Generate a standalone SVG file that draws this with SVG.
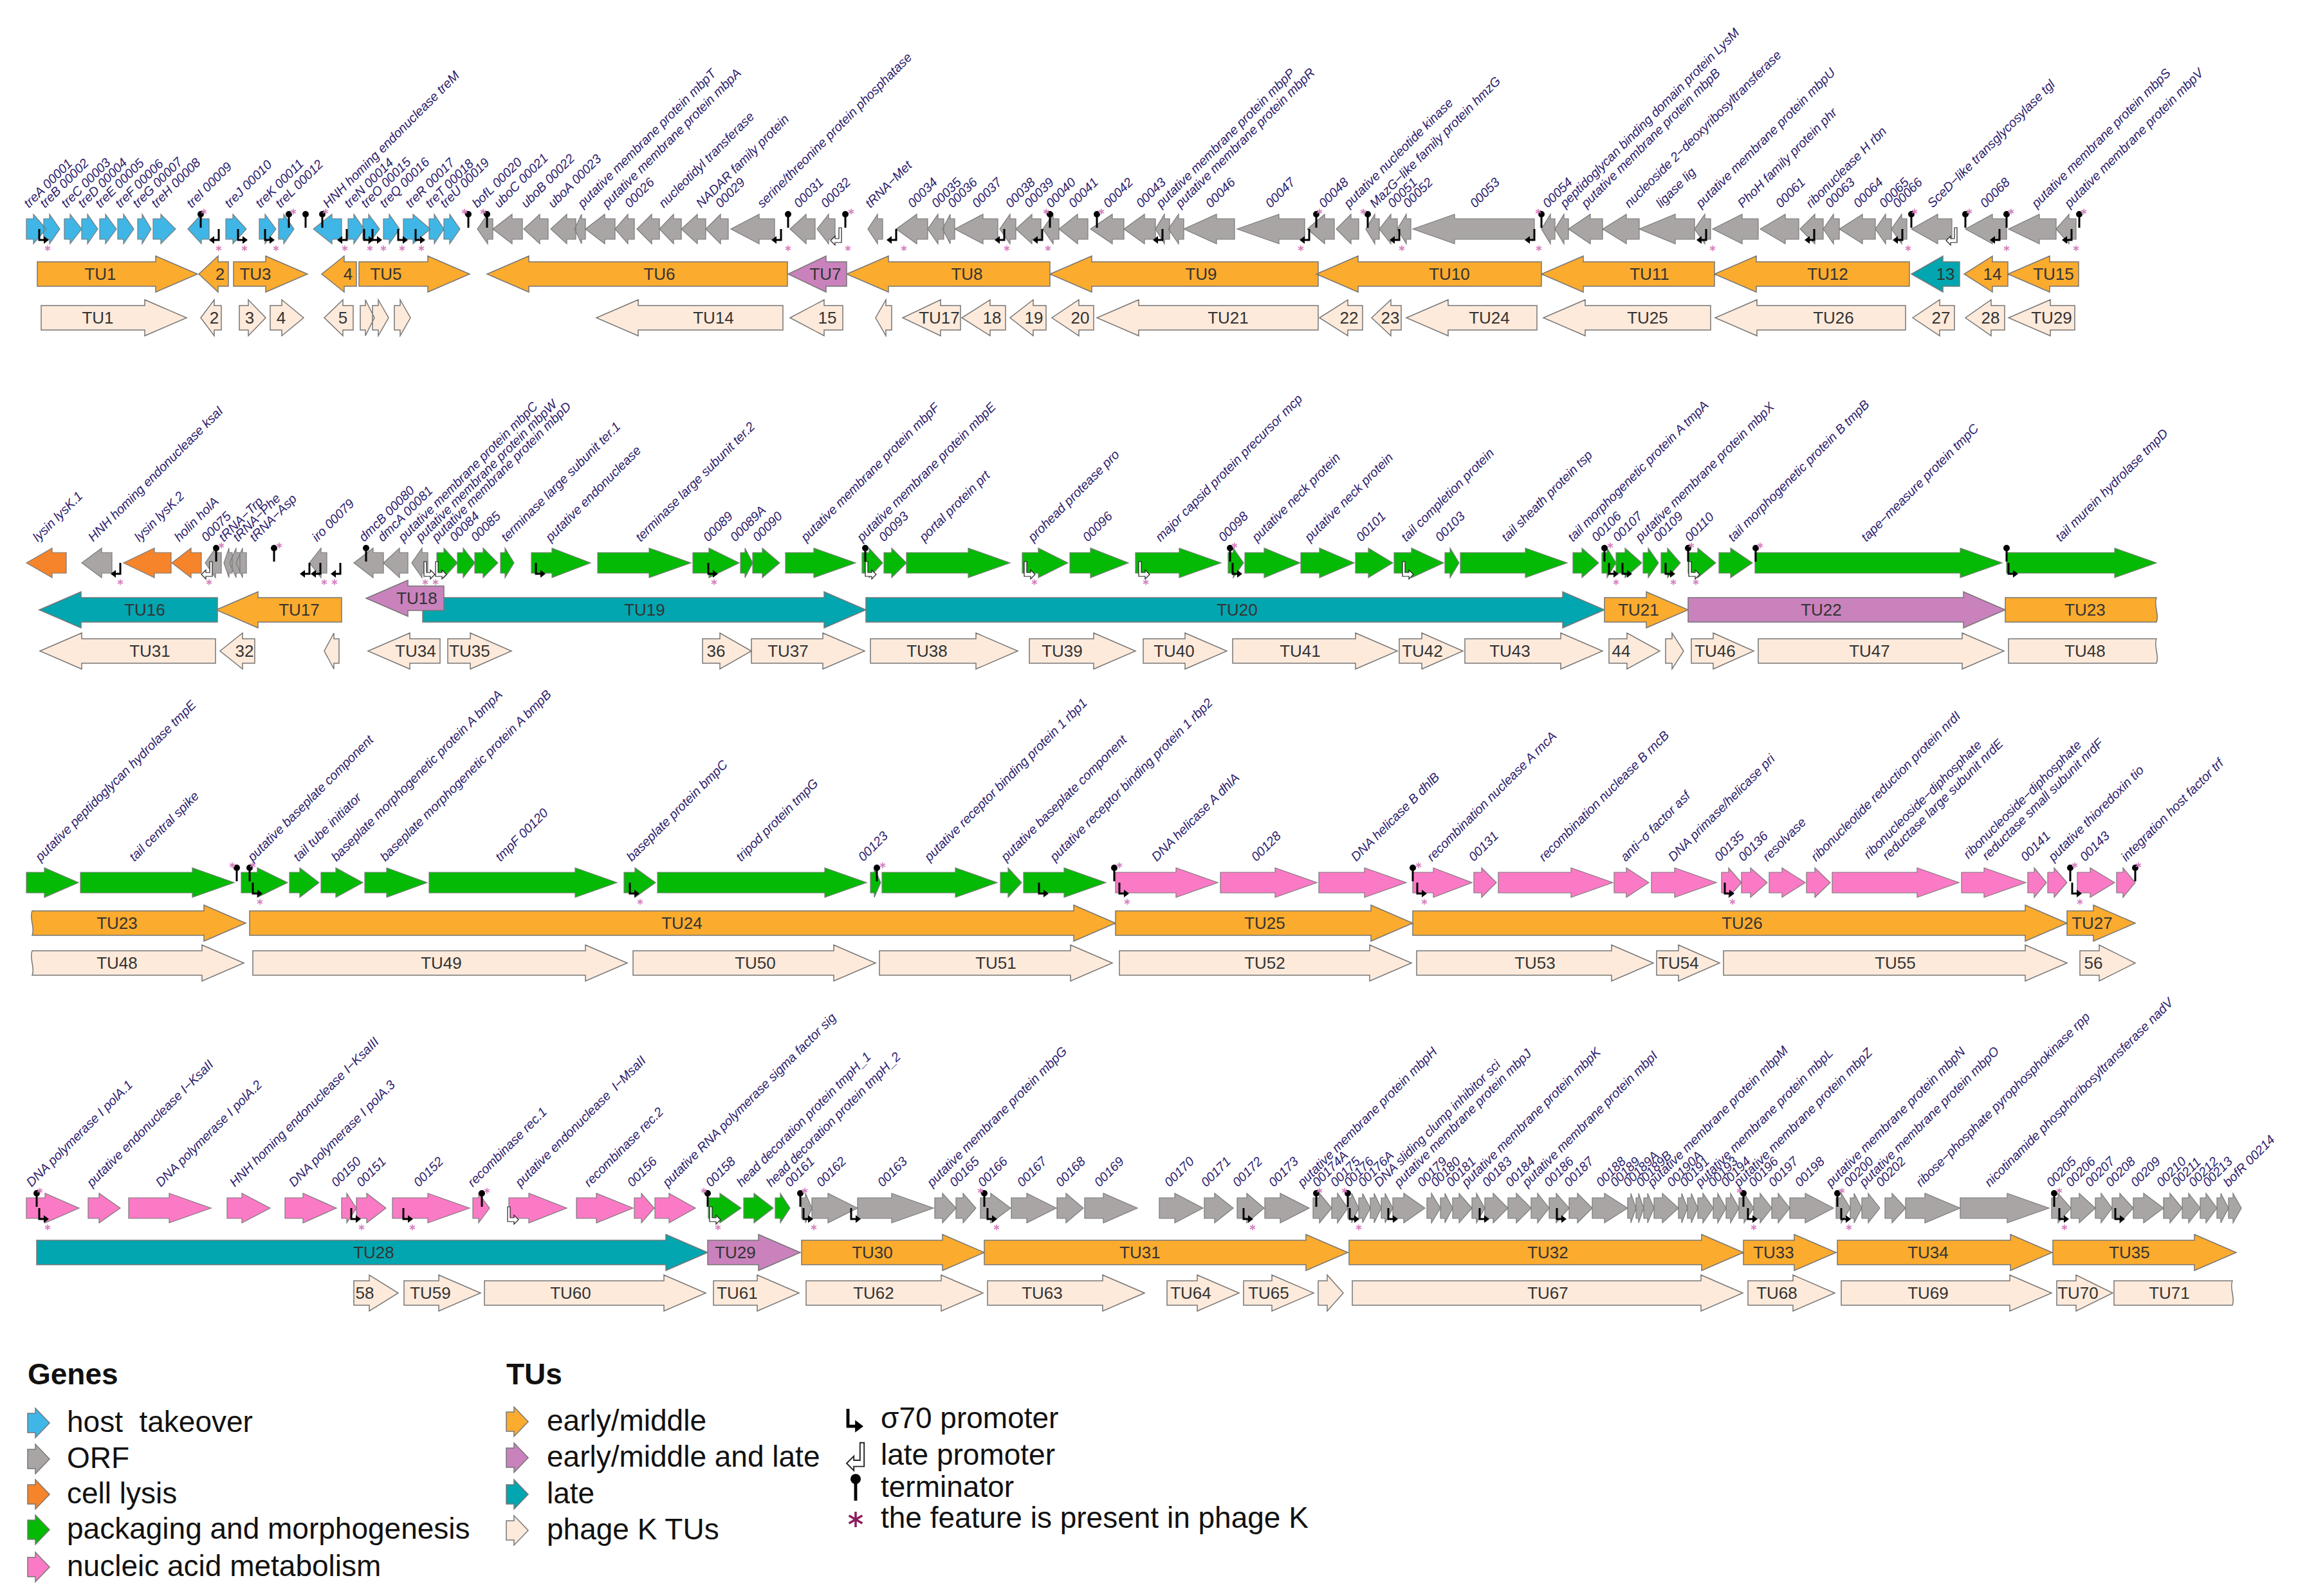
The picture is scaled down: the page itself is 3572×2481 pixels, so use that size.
<svg xmlns="http://www.w3.org/2000/svg" width="3572" height="2481" viewBox="0 0 3572 2481">
<style>
.gn path{stroke:#7a7a7a;stroke-width:1.2;stroke-linejoin:miter}
.tu path{stroke:#777;stroke-width:1.5}
.hb{fill:#3fb6e6}.or{fill:#a9a5a5}.cl{fill:#f6842b}.pk{fill:#05ba05}.na{fill:#fb7ac5}
.em{fill:#fbab2e}.ml{fill:#c982bc}.lt{fill:#02a6b0}.pkt{fill:#feeadb}
.lab text{font-family:"Liberation Sans",Arial,sans-serif;font-style:italic;font-size:20px;fill:#2d1d6c}
.tu text{font-family:"Liberation Sans",Arial,sans-serif;font-size:26px;fill:#333;text-anchor:middle}
.lg{font-family:"Liberation Sans",Arial,sans-serif;font-size:46px;fill:#111}
.lgh{font-family:"Liberation Sans",Arial,sans-serif;font-size:46px;font-weight:bold;fill:#111}
.ic{stroke:#777;stroke-width:1.5}
</style>
<defs>
<g id="pR"><path d="M0 0V17H8" fill="none" stroke="#000" stroke-width="3"/><path d="M7 11L15 17L7 23Z" fill="#000"/></g>
<g id="pL"><path d="M0 0V17H-8" fill="none" stroke="#000" stroke-width="3"/><path d="M-7 11L-15 17L-7 23Z" fill="#000"/></g>
<path id="lR" d="M-2-2H2V15H8V11L15 18L8 25V21H-2Z" fill="#fff" stroke="#222" stroke-width="1.2"/>
<path id="lL" d="M2-2H-2V15H-8V11L-15 18L-8 25V21H2Z" fill="#fff" stroke="#222" stroke-width="1.2"/>
<g id="t"><path d="M0-23V-2" stroke="#000" stroke-width="3"/><circle cy="-23" r="5" fill="#000"/></g>
<path id="a" d="M0-4.5V4.5M-4-2.3L4 2.3M-4 2.3L4-2.3" stroke="#d67fbf" stroke-width="1.6" fill="none"/>
<path id="ic" d="M0-15H12V-23L34 0L12 23V15H0Z"/>
</defs>
<rect width="3572" height="2481" fill="#fff"/>

<g id="row1">
<g id="row1-genes" class="gn" transform="translate(0 356)">
<path class="hb" d="M41-16H52V-23L72 0L52 23V16H41Z M68-16H77V-23L93 0L77 23V16H68Z M100-16H109V-23L127 0L109 23V16H100Z M127-16H136V-23L152 0L136 23V16H127Z M155-16H164V-23L181 0L164 23V16H155Z M183-16H192V-23L208 0L192 23V16H183Z M214-16H221V-23L235 0L221 23V16H214Z M238-16H250V-23L273 0L250 23V16H238Z M325-16H313V-23L292 0L313 23V16H325Z M351-16H362V-23L383 0L362 23V16H351Z M403-16H412V-23L429 0L412 23V16H403Z M433-16H441V-23L457 0L441 23V16H433Z M531-16H516V-23L487 0L516 23V16H531Z M541-16H550V-23L566 0L550 23V16H541Z M564-16H573V-23L590 0L573 23V16H564Z M596-16H605V-23L621 0L605 23V16H596Z M627-16H642V-23L669 0L642 23V16H627Z M667-16H675V-23L690 0L675 23V16H667Z M690-16H699V-23L715 0L699 23V16H690Z"/>
<path class="or" d="M766-16H758V-23L742 0L758 23V16H766Z M812-16H796V-23L766 0L796 23V16H812Z M852-16H839V-23L814 0L839 23V16H852Z M895-16H881V-23L856 0L881 23V16H895Z M910-16H904V-23L893 0L904 23V16H910Z M956-16H940V-23L910 0L940 23V16H956Z M986-16H976V-23L956 0L976 23V16H986Z M1025-16H1013V-23L990 0L1013 23V16H1025Z M1059-16H1047V-23L1025 0L1047 23V16H1059Z M1097-16H1084V-23L1059 0L1084 23V16H1097Z M1132-16H1120V-23L1097 0L1120 23V16H1132Z M1204-16H1180V-23L1136 0L1180 23V16H1204Z M1267-16H1253V-23L1228 0L1253 23V16H1267Z M1298-16H1288V-23L1270 0L1288 23V16H1298Z M1372-16H1364V-23L1349 0L1364 23V16H1372Z M1442-16H1425V-23L1393 0L1425 23V16H1442Z M1467-16H1458V-23L1442 0L1458 23V16H1467Z M1484-16H1477V-23L1465 0L1477 23V16H1484Z M1551-16H1528V-23L1484 0L1528 23V16H1551Z M1579-16H1570V-23L1554 0L1570 23V16H1579Z M1618-16H1604V-23L1579 0L1604 23V16H1618Z M1646-16H1637V-23L1621 0L1637 23V16H1646Z M1691-16H1675V-23L1646 0L1675 23V16H1691Z M1747-16H1729V-23L1695 0L1729 23V16H1747Z M1796-16H1779V-23L1747 0L1779 23V16H1796Z M1818-16H1810V-23L1796 0L1810 23V16H1818Z M1840-16H1832V-23L1816 0L1832 23V16H1840Z M1919-16H1891V-23L1840 0L1891 23V16H1919Z M2028-16H1988V-23L1923 0L1988 23V16H2028Z M2074-16H2059V-23L2032 0L2059 23V16H2074Z M2112-16H2100V-23L2077 0L2100 23V16H2112Z M2144-16H2137V-23L2123 0L2137 23V16H2144Z M2172-16H2162V-23L2144 0L2162 23V16H2172Z M2193-16H2186V-23L2172 0L2186 23V16H2193Z M2385-16H2261V-23L2196 0L2261 23V16H2385Z M2417-16H2410V-23L2396 0L2410 23V16H2417Z M2438-16H2431V-23L2417 0L2431 23V16H2438Z M2491-16H2472V-23L2438 0L2472 23V16H2491Z M2548-16H2528V-23L2491 0L2528 23V16H2548Z M2634-16H2604V-23L2548 0L2604 23V16H2634Z M2659-16H2650V-23L2634 0L2650 23V16H2659Z M2733-16H2708V-23L2662 0L2708 23V16H2733Z M2796-16H2775V-23L2736 0L2775 23V16H2796Z M2834-16H2821V-23L2798 0L2821 23V16H2834Z M2859-16H2850V-23L2834 0L2850 23V16H2859Z M2915-16H2895V-23L2859 0L2895 23V16H2915Z M2940-16H2931V-23L2915 0L2931 23V16H2940Z M2964-16H2956V-23L2940 0L2956 23V16H2964Z M3034-16H3012V-23L2971 0L3012 23V16H3034Z M3119-16H3097V-23L3055 0L3097 23V16H3119Z M3196-16H3170V-23L3122 0L3170 23V16H3196Z M3227-16H3216V-23L3196 0L3216 23V16H3227Z"/>
<use href="#pR" x="61"/><use href="#pR" x="370"/><use href="#pR" x="412"/><use href="#pR" x="566"/><use href="#pR" x="579"/><use href="#pR" x="619"/><use href="#pR" x="646"/>
<use href="#pL" x="340"/><use href="#pL" x="539"/><use href="#pL" x="1214"/><use href="#pL" x="1393"/><use href="#pL" x="1561"/><use href="#pL" x="1620"/><use href="#pL" x="1807"/><use href="#pL" x="2035"/><use href="#pL" x="2175"/><use href="#pL" x="2385"/><use href="#pL" x="2652"/><use href="#pL" x="2820"/><use href="#pL" x="2957"/><use href="#pL" x="3108"/><use href="#pL" x="3220"/>
<use href="#lL" x="1306"/><use href="#lL" x="3040"/>
<use href="#t" x="312"/><use href="#t" x="449"/><use href="#t" x="475"/><use href="#t" x="501"/><use href="#t" x="728"/><use href="#t" x="757"/><use href="#t" x="1225"/><use href="#t" x="1314"/><use href="#t" x="1632"/><use href="#t" x="1705"/><use href="#t" x="2046"/><use href="#t" x="2126"/><use href="#t" x="2396"/><use href="#t" x="2971"/><use href="#t" x="3055"/><use href="#t" x="3119"/><use href="#t" x="3232"/>
<use href="#a" x="317" y="-27"/><use href="#a" x="456" y="-27"/><use href="#a" x="506" y="-27"/><use href="#a" x="722" y="-27"/><use href="#a" x="751" y="-27"/><use href="#a" x="1323" y="-27"/><use href="#a" x="1626" y="-27"/><use href="#a" x="1712" y="-27"/><use href="#a" x="2051" y="-27"/><use href="#a" x="2119" y="-27"/><use href="#a" x="2391" y="-27"/><use href="#a" x="2976" y="-27"/><use href="#a" x="3061" y="-27"/><use href="#a" x="3126" y="-27"/><use href="#a" x="3239" y="-27"/>
<use href="#a" x="74" y="30"/><use href="#a" x="340" y="30"/><use href="#a" x="380" y="30"/><use href="#a" x="429" y="30"/><use href="#a" x="536" y="30"/><use href="#a" x="575" y="30"/><use href="#a" x="596" y="30"/><use href="#a" x="625" y="30"/><use href="#a" x="655" y="30"/><use href="#a" x="1225" y="30"/><use href="#a" x="1318" y="30"/><use href="#a" x="1405" y="30"/><use href="#a" x="1565" y="30"/><use href="#a" x="1629" y="30"/><use href="#a" x="2022" y="30"/><use href="#a" x="2179" y="30"/><use href="#a" x="2392" y="30"/><use href="#a" x="2662" y="30"/><use href="#a" x="2966" y="30"/><use href="#a" x="3119" y="30"/><use href="#a" x="3227" y="30"/>
</g>
<g id="row1-tus" class="tu" transform="translate(0 426)">
<path class="em" d="M58-19H242V-28L307 0L242 28V19H58Z M355-19H339V-28L309 0L339 28V19H355Z M363-19H413V-28L478 0L413 28V19H363Z M554-19H535V-28L500 0L535 28V19H554Z M558-19H665V-28L730 0L665 28V19H558Z M1224-19H822V-28L757 0L822 28V19H1224Z M1632-19H1381V-28L1316 0L1381 28V19H1632Z M2049-19H1697V-28L1632 0L1697 28V19H2049Z M2396-19H2111V-28L2046 0L2111 28V19H2396Z M2665-19H2461V-28L2396 0L2461 28V19H2665Z M2968-19H2730V-28L2665 0L2730 28V19H2968Z M3121-19H3097V-28L3053 0L3097 28V19H3121Z M3231-19H3186V-28L3121 0L3186 28V19H3231Z"/>
<path class="ml" d="M1316-19H1284V-28L1225 0L1284 28V19H1316Z"/>
<path class="lt" d="M3046-19H3020V-28L2971 0L3020 28V19H3046Z"/>
<text x="156" y="9">TU1</text><text x="342" y="9">2</text><text x="397" y="9">TU3</text><text x="541" y="9">4</text><text x="600" y="9">TU5</text><text x="1025" y="9">TU6</text><text x="1283" y="9">TU7</text><text x="1503" y="9">TU8</text><text x="1867" y="9">TU9</text><text x="2253" y="9">TU10</text><text x="2564" y="9">TU11</text><text x="2841" y="9">TU12</text><text x="3024" y="9">13</text><text x="3097" y="9">14</text><text x="3192" y="9">TU15</text>
</g>
<g id="row1-phageK" class="tu" transform="translate(0 494)">
<path class="pkt" d="M64-19H225V-28L290 0L225 28V19H64Z M344-19H333V-28L312 0L333 28V19H344Z M372-19H386V-28L413 0L386 28V19H372Z M420-19H438V-28L472 0L438 28V19H420Z M549-19H533V-28L504 0L533 28V19H549Z M560-19H568V-28L582 0L568 28V19H560Z M579-19H588V-28L604 0L588 28V19H579Z M613-19H622V-28L638 0L622 28V19H613Z M1217-19H992V-28L927 0L992 28V19H1217Z M1310-19H1281V-28L1228 0L1281 28V19H1310Z M1386-19H1377V-28L1361 0L1377 28V19H1386Z M1493-19H1462V-28L1403 0L1462 28V19H1493Z M1563-19H1539V-28L1495 0L1539 28V19H1563Z M1626-19H1606V-28L1570 0L1606 28V19H1626Z M1700-19H1677V-28L1635 0L1677 28V19H1700Z M2049-19H1770V-28L1705 0L1770 28V19H2049Z M2118-19H2095V-28L2051 0L2095 28V19H2118Z M2178-19H2162V-28L2132 0L2162 28V19H2178Z M2389-19H2251V-28L2186 0L2251 28V19H2389Z M2659-19H2464V-28L2399 0L2464 28V19H2659Z M2962-19H2731V-28L2666 0L2731 28V19H2962Z M3038-19H3015V-28L2973 0L3015 28V19H3038Z M3116-19H3095V-28L3055 0L3095 28V19H3116Z M3225-19H3187V-28L3122 0L3187 28V19H3225Z"/>
<text x="152" y="9">TU1</text><text x="333" y="9">2</text><text x="388" y="9">3</text><text x="437" y="9">4</text><text x="533" y="9">5</text><text x="1109" y="9">TU14</text><text x="1286" y="9">15</text><text x="1460" y="9">TU17</text><text x="1542" y="9">18</text><text x="1607" y="9">19</text><text x="1679" y="9">20</text><text x="1909" y="9">TU21</text><text x="2097" y="9">22</text><text x="2161" y="9">23</text><text x="2315" y="9">TU24</text><text x="2561" y="9">TU25</text><text x="2850" y="9">TU26</text><text x="3017" y="9">27</text><text x="3094" y="9">28</text><text x="3189" y="9">TU29</text>
</g>
<g id="row1-labels" class="lab">
<text transform="translate(45 324)rotate(-45)">treA 00001</text>
<text transform="translate(70 324)rotate(-45)">treB 00002</text>
<text transform="translate(103 324)rotate(-45)">treC 00003</text>
<text transform="translate(129 324)rotate(-45)">treD 00004</text>
<text transform="translate(156 324)rotate(-45)">treE 00005</text>
<text transform="translate(187 324)rotate(-45)">treF 00006</text>
<text transform="translate(214 324)rotate(-45)">treG 00007</text>
<text transform="translate(243 324)rotate(-45)">treH 00008</text>
<text transform="translate(298 324)rotate(-45)">treI 00009</text>
<text transform="translate(357 324)rotate(-45)">treJ 00010</text>
<text transform="translate(405 324)rotate(-45)">treK 00011</text>
<text transform="translate(436 324)rotate(-45)">treL 00012</text>
<text transform="translate(510 324)rotate(-45)">HNH homing endonuclease treM</text>
<text transform="translate(543 324)rotate(-45)">treN 00014</text>
<text transform="translate(569 324)rotate(-45)">treO 00015</text>
<text transform="translate(598 324)rotate(-45)">treQ 00016</text>
<text transform="translate(638 324)rotate(-45)">treR 00017</text>
<text transform="translate(669 324)rotate(-45)">treT 00018</text>
<text transform="translate(692 324)rotate(-45)">treU 00019</text>
<text transform="translate(742 324)rotate(-45)">bofL 00020</text>
<text transform="translate(776 324)rotate(-45)">uboC 00021</text>
<text transform="translate(818 324)rotate(-45)">uboB 00022</text>
<text transform="translate(860 324)rotate(-45)">uboA 00023</text>
<text transform="translate(906 324)rotate(-45)">putative membrane protein mbpT</text>
<text transform="translate(944 324)rotate(-45)">putative membrane protein mbpA</text>
<text transform="translate(979 324)rotate(-45)">00026</text>
<text transform="translate(1032 324)rotate(-45)">nucleotidyl transferase</text>
<text transform="translate(1090 324)rotate(-45)">NADAR family protein</text>
<text transform="translate(1120 324)rotate(-45)">00029</text>
<text transform="translate(1185 324)rotate(-45)">serine/threonine protein phosphatase</text>
<text transform="translate(1242 324)rotate(-45)">00031</text>
<text transform="translate(1284 324)rotate(-45)">00032</text>
<text transform="translate(1353 324)rotate(-45)">tRNA−Met</text>
<text transform="translate(1419 324)rotate(-45)">00034</text>
<text transform="translate(1456 324)rotate(-45)">00035</text>
<text transform="translate(1481 324)rotate(-45)">00036</text>
<text transform="translate(1519 324)rotate(-45)">00037</text>
<text transform="translate(1571 324)rotate(-45)">00038</text>
<text transform="translate(1600 324)rotate(-45)">00039</text>
<text transform="translate(1634 324)rotate(-45)">00040</text>
<text transform="translate(1669 324)rotate(-45)">00041</text>
<text transform="translate(1723 324)rotate(-45)">00042</text>
<text transform="translate(1774 324)rotate(-45)">00043</text>
<text transform="translate(1805 324)rotate(-45)">putative membrane protein mbpP</text>
<text transform="translate(1835 324)rotate(-45)">putative membrane protein mbpR</text>
<text transform="translate(1882 324)rotate(-45)">00046</text>
<text transform="translate(1975 324)rotate(-45)">00047</text>
<text transform="translate(2058 324)rotate(-45)">00048</text>
<text transform="translate(2097 324)rotate(-45)">putative nucleotide kinase</text>
<text transform="translate(2137 324)rotate(-45)">MazG−like family protein hmzG</text>
<text transform="translate(2165 324)rotate(-45)">00051</text>
<text transform="translate(2189 324)rotate(-45)">00052</text>
<text transform="translate(2293 324)rotate(-45)">00053</text>
<text transform="translate(2406 324)rotate(-45)">00054</text>
<text transform="translate(2433 324)rotate(-45)">peptidoglycan binding domain protein LysM</text>
<text transform="translate(2466 324)rotate(-45)">putative membrane protein mbpB</text>
<text transform="translate(2533 324)rotate(-45)">nucleoside 2−deoxyribosyltransferase</text>
<text transform="translate(2582 324)rotate(-45)">ligase lig</text>
<text transform="translate(2644 324)rotate(-45)">putative membrane protein mbpU</text>
<text transform="translate(2709 324)rotate(-45)">PhoH family protein phr</text>
<text transform="translate(2768 324)rotate(-45)">00061</text>
<text transform="translate(2815 324)rotate(-45)">ribonuclease H rbn</text>
<text transform="translate(2845 324)rotate(-45)">00063</text>
<text transform="translate(2889 324)rotate(-45)">00064</text>
<text transform="translate(2929 324)rotate(-45)">00065</text>
<text transform="translate(2950 324)rotate(-45)">00066</text>
<text transform="translate(3004 324)rotate(-45)">SceD−like transglycosylase tgl</text>
<text transform="translate(3086 324)rotate(-45)">00068</text>
<text transform="translate(3166 324)rotate(-45)">putative membrane protein mbpS</text>
<text transform="translate(3217 324)rotate(-45)">putative membrane protein mbpV</text>
</g>
</g>

<g id="row2">
<g id="row2-genes" class="gn" transform="translate(0 875)">
<path class="cl" d="M103-16H81V-23L41 0L81 23V16H103Z M266-16H240V-23L192 0L240 23V16H266Z M313-16H297V-23L267 0L297 23V16H313Z"/>
<path class="or" d="M174-16H158V-23L127 0L158 23V16H174Z M344-16H335V-23L319 0L335 23V16H344Z M361-16H356V-23L348 0L356 23V16H361Z M373-16H367V-23L357 0L367 23V16H373Z M383-16H377V-23L367 0L377 23V16H383Z M508-16H499V-23L481 0L499 23V16H508Z M596-16H580V-23L550 0L580 23V16H596Z M634-16H621V-23L596 0L621 23V16H634Z M665-16H656V-23L640 0L656 23V16H665Z"/>
<path class="pk" d="M679-16H690V-23L711 0L690 23V16H679Z M711-16H720V-23L738 0L720 23V16H711Z M738-16H751V-23L774 0L751 23V16H738Z M778-16H785V-23L799 0L785 23V16H778Z M826-16H858V-23L918 0L858 23V16H826Z M929-16H1009V-23L1074 0L1009 23V16H929Z M1077-16H1102V-23L1149 0L1102 23V16H1077Z M1151-16H1158V-23L1170 0L1158 23V16H1151Z M1170-16H1185V-23L1212 0L1185 23V16H1170Z M1221-16H1265V-23L1330 0L1265 23V16H1221Z M1340-16H1351V-23L1372 0L1351 23V16H1340Z M1374-16H1386V-23L1409 0L1386 23V16H1374Z M1409-16H1505V-23L1570 0L1505 23V16H1409Z M1589-16H1614V-23L1660 0L1614 23V16H1589Z M1663-16H1695V-23L1754 0L1695 23V16H1663Z M1765-16H1833V-23L1898 0L1833 23V16H1765Z M1909-16H1917V-23L1933 0L1917 23V16H1909Z M1935-16H1965V-23L2021 0L1965 23V16H1935Z M2022-16H2051V-23L2105 0L2051 23V16H2022Z M2107-16H2127V-23L2165 0L2127 23V16H2107Z M2167-16H2194V-23L2244 0L2194 23V16H2167Z M2246-16H2254V-23L2268 0L2254 23V16H2246Z M2270-16H2371V-23L2436 0L2371 23V16H2270Z M2445-16H2459V-23L2485 0L2459 23V16H2445Z M2490-16H2498V-23L2512 0L2498 23V16H2490Z M2512-16H2526V-23L2552 0L2526 23V16H2512Z M2554-16H2562V-23L2578 0L2562 23V16H2554Z M2582-16H2592V-23L2612 0L2592 23V16H2582Z M2624-16H2639V-23L2667 0L2639 23V16H2624Z M2672-16H2690V-23L2724 0L2690 23V16H2672Z M2728-16H3047V-23L3112 0L3047 23V16H2728Z M3119-16H3287V-23L3352 0L3287 23V16H3119Z"/>
<use href="#pL" x="187"/><use href="#pL" x="481"/><use href="#pL" x="498"/><use href="#pL" x="529"/>
<use href="#lL" x="328"/>
<use href="#t" x="336"/><use href="#t" x="426"/><use href="#t" x="569"/><use href="#t" x="1345"/><use href="#t" x="1912"/><use href="#t" x="2494"/><use href="#t" x="2624"/><use href="#t" x="2729"/><use href="#t" x="3119"/>
<use href="#lR" x="661"/><use href="#lR" x="679"/><use href="#lR" x="1347"/><use href="#lR" x="1594"/><use href="#lR" x="1772"/><use href="#lR" x="2182"/><use href="#lR" x="2627"/>
<use href="#pR" x="833"/><use href="#pR" x="1101"/><use href="#pR" x="1916"/><use href="#pR" x="2501"/><use href="#pR" x="2522"/><use href="#pR" x="2589"/><use href="#pR" x="3122"/>
<use href="#a" x="344" y="-27"/><use href="#a" x="434" y="-27"/><use href="#a" x="1919" y="-27"/><use href="#a" x="2503" y="-27"/><use href="#a" x="2629" y="-27"/><use href="#a" x="2736" y="-27"/>
<use href="#a" x="187" y="30"/><use href="#a" x="325" y="30"/><use href="#a" x="504" y="30"/><use href="#a" x="520" y="30"/><use href="#a" x="661" y="30"/><use href="#a" x="677" y="30"/><use href="#a" x="1110" y="30"/><use href="#a" x="1608" y="30"/><use href="#a" x="1781" y="30"/><use href="#a" x="2512" y="30"/><use href="#a" x="2601" y="30"/><use href="#a" x="2636" y="30"/>
</g>
<g id="row2-tus" class="tu" transform="translate(0 948)">
<path class="lt" d="M338-19H126V-28L61 0L126 28V19H338Z M657-19H1281V-28L1346 0L1281 28V19H657Z M1346-19H2429V-28L2494 0L2429 28V19H1346Z"/>
<path class="em" d="M531-19H401V-28L336 0L401 28V19H531Z M2494-19H2559V-28L2624 0L2559 28V19H2494Z M3117-19H3352c-5 12 5 26 0 38H3117Z"/>
<path class="ml" d="M2624-19H3052V-28L3117 0L3052 28V19H2624Z M690-37H634V-46L569-18L634 10V1H690Z"/>
<text x="225" y="9">TU16</text><text x="465" y="9">TU17</text><text x="648" y="-9">TU18</text><text x="1002" y="9">TU19</text><text x="1923" y="9">TU20</text><text x="2547" y="9">TU21</text><text x="2831" y="9">TU22</text><text x="3241" y="9">TU23</text>
</g>
<g id="row2-phageK" class="tu" transform="translate(0 1012)">
<path class="pkt" d="M335-19H127V-28L62 0L127 28V19H335Z M396-19H377V-28L342 0L377 28V19H396Z M527-19H519V-28L504 0L519 28V19H527Z M684-19H637V-28L572 0L637 28V19H684Z M696-19H731V-28L795 0L731 28V19H696Z M1092-19H1119V-28L1168 0L1119 28V19H1092Z M1168-19H1279V-28L1344 0L1279 28V19H1168Z M1353-19H1517V-28L1582 0L1517 28V19H1353Z M1600-19H1700V-28L1765 0L1700 28V19H1600Z M1777-19H1842V-28L1907 0L1842 28V19H1777Z M1916-19H2107V-28L2172 0L2107 28V19H1916Z M2175-19H2210V-28L2274 0L2210 28V19H2175Z M2277-19H2426V-28L2491 0L2426 28V19H2277Z M2501-19H2529V-28L2580 0L2529 28V19H2501Z M2589-19H2599V-28L2617 0L2599 28V19H2589Z M2629-19H2663V-28L2726 0L2663 28V19H2629Z M2733-19H3050V-28L3115 0L3050 28V19H2733Z M3122-19H3352c-5 12 5 26 0 38H3122Z"/>
<text x="233" y="9">TU31</text><text x="380" y="9">32</text><text x="646" y="9">TU34</text><text x="730" y="9">TU35</text><text x="1113" y="9">36</text><text x="1225" y="9">TU37</text><text x="1441" y="9">TU38</text><text x="1651" y="9">TU39</text><text x="1825" y="9">TU40</text><text x="2021" y="9">TU41</text><text x="2211" y="9">TU42</text><text x="2347" y="9">TU43</text><text x="2520" y="9">44</text><text x="2666" y="9">TU46</text><text x="2906" y="9">TU47</text><text x="3241" y="9">TU48</text>
</g>
<g id="row2-labels" class="lab">
<text transform="translate(59 843)rotate(-45)">lysin lysK.1</text>
<text transform="translate(145 843)rotate(-45)">HNH homing endonuclease ksaI</text>
<text transform="translate(217 843)rotate(-45)">lysin lysK.2</text>
<text transform="translate(279 843)rotate(-45)">holin holA</text>
<text transform="translate(321 843)rotate(-45)">00075</text>
<text transform="translate(348 843)rotate(-45)">tRNA−Trp</text>
<text transform="translate(370 843)rotate(-45)">tRNA−Phe</text>
<text transform="translate(396 843)rotate(-45)">tRNA−Asp</text>
<text transform="translate(493 843)rotate(-45)">iro 00079</text>
<text transform="translate(566 843)rotate(-45)">dmcB 00080</text>
<text transform="translate(595 843)rotate(-45)">dmcA 00081</text>
<text transform="translate(627 843)rotate(-45)">putative membrane protein mbpC</text>
<text transform="translate(654 843)rotate(-45)">putative membrane protein mbpW</text>
<text transform="translate(679 843)rotate(-45)">putative membrane protein mbpD</text>
<text transform="translate(707 843)rotate(-45)">00084</text>
<text transform="translate(740 843)rotate(-45)">00085</text>
<text transform="translate(787 843)rotate(-45)">terminase large subunit ter.1</text>
<text transform="translate(856 843)rotate(-45)">putative endonuclease</text>
<text transform="translate(996 843)rotate(-45)">terminase large subunit ter.2</text>
<text transform="translate(1101 843)rotate(-45)">00089</text>
<text transform="translate(1143 843)rotate(-45)">00089A</text>
<text transform="translate(1178 843)rotate(-45)">00090</text>
<text transform="translate(1253 843)rotate(-45)">putative membrane protein mbpF</text>
<text transform="translate(1340 843)rotate(-45)">putative membrane protein mbpE</text>
<text transform="translate(1374 843)rotate(-45)">00093</text>
<text transform="translate(1437 843)rotate(-45)">portal protein prt</text>
<text transform="translate(1606 843)rotate(-45)">prohead protease pro</text>
<text transform="translate(1691 843)rotate(-45)">00096</text>
<text transform="translate(1804 843)rotate(-45)">major capsid protein precursor mcp</text>
<text transform="translate(1902 843)rotate(-45)">00098</text>
<text transform="translate(1954 843)rotate(-45)">putative neck protein</text>
<text transform="translate(2036 843)rotate(-45)">putative neck protein</text>
<text transform="translate(2116 843)rotate(-45)">00101</text>
<text transform="translate(2186 843)rotate(-45)">tail completion protein</text>
<text transform="translate(2239 843)rotate(-45)">00103</text>
<text transform="translate(2342 843)rotate(-45)">tail sheath protein tsp</text>
<text transform="translate(2445 843)rotate(-45)">tail morphogenetic protein A tmpA</text>
<text transform="translate(2482 843)rotate(-45)">00106</text>
<text transform="translate(2515 843)rotate(-45)">00107</text>
<text transform="translate(2550 843)rotate(-45)">putative membrane protein mbpX</text>
<text transform="translate(2578 843)rotate(-45)">00109</text>
<text transform="translate(2627 843)rotate(-45)">00110</text>
<text transform="translate(2694 843)rotate(-45)">tail morphogenetic protein B tmpB</text>
<text transform="translate(2901 843)rotate(-45)">tape−measure protein tmpC</text>
<text transform="translate(3203 843)rotate(-45)">tail murein hydrolase tmpD</text>
</g>
</g>

<g id="row3">
<g id="row3-genes" class="gn" transform="translate(0 1372)">
<path class="pk" d="M41-16H69V-23L122 0L69 23V16H41Z M125-16H299V-23L364 0L299 23V16H125Z M375-16H400V-23L447 0L400 23V16H375Z M450-16H466V-23L496 0L466 23V16H450Z M499-16H522V-23L564 0L522 23V16H499Z M567-16H601V-23L664 0L601 23V16H567Z M667-16H894V-23L959 0L894 23V16H667Z M970-16H987V-23L1019 0L987 23V16H970Z M1022-16H1282V-23L1347 0L1282 23V16H1022Z M1353-16H1359V-23L1369 0L1359 23V16H1353Z M1371-16H1485V-23L1550 0L1485 23V16H1371Z M1555-16H1567V-23L1588 0L1567 23V16H1555Z M1591-16H1654V-23L1719 0L1654 23V16H1591Z"/>
<path class="na" d="M1734-16H1828V-23L1893 0L1828 23V16H1734Z M1897-16H1982V-23L2047 0L1982 23V16H1897Z M2050-16H2121V-23L2186 0L2121 23V16H2050Z M2196-16H2228V-23L2288 0L2228 23V16H2196Z M2291-16H2303V-23L2326 0L2303 23V16H2291Z M2329-16H2442V-23L2507 0L2442 23V16H2329Z M2509-16H2528V-23L2563 0L2528 23V16H2509Z M2567-16H2603V-23L2668 0L2603 23V16H2567Z M2676-16H2687V-23L2707 0L2687 23V16H2676Z M2707-16H2721V-23L2747 0L2721 23V16H2707Z M2750-16H2770V-23L2806 0L2770 23V16H2750Z M2808-16H2821V-23L2845 0L2821 23V16H2808Z M2848-16H2980V-23L3045 0L2980 23V16H2848Z M3049-16H3084V-23L3149 0L3084 23V16H3049Z M3152-16H3162V-23L3181 0L3162 23V16H3152Z M3183-16H3193V-23L3213 0L3193 23V16H3183Z M3229-16H3249V-23L3287 0L3249 23V16H3229Z M3290-16H3300V-23L3319 0L3300 23V16H3290Z"/>
<use href="#t" x="368"/><use href="#t" x="388"/><use href="#t" x="1363"/><use href="#t" x="1732"/><use href="#t" x="2196"/><use href="#t" x="3218"/><use href="#t" x="3319"/>
<use href="#pR" x="393"/><use href="#pR" x="979"/><use href="#pR" x="1615"/><use href="#pR" x="1740"/><use href="#pR" x="2203"/><use href="#pR" x="2681"/><use href="#pR" x="3221"/>
<use href="#a" x="361" y="-27"/><use href="#a" x="393" y="-27"/><use href="#a" x="1372" y="-27"/><use href="#a" x="1740" y="-27"/><use href="#a" x="2205" y="-27"/><use href="#a" x="3225" y="-27"/><use href="#a" x="3324" y="-27"/>
<use href="#a" x="404" y="30"/><use href="#a" x="995" y="30"/><use href="#a" x="1752" y="30"/><use href="#a" x="2214" y="30"/><use href="#a" x="2693" y="30"/><use href="#a" x="3233" y="30"/>
</g>
<g id="row3-tus" class="tu" transform="translate(0 1435)">
<path class="em" d="M50-19H317V-28L382 0L317 28V19H50c5-12-5-26 0-38Z M388-19H1669V-28L1734 0L1669 28V19H388Z M1734-19H2131V-28L2196 0L2131 28V19H1734Z M2196-19H3148V-28L3213 0L3148 28V19H2196Z M3213-19H3254V-28L3319 0L3254 28V19H3213Z"/>
<text x="182" y="9">TU23</text><text x="1060" y="9">TU24</text><text x="1966" y="9">TU25</text><text x="2708" y="9">TU26</text><text x="3252" y="9">TU27</text>
</g>
<g id="row3-phageK" class="tu" transform="translate(0 1497)">
<path class="pkt" d="M50-19H314V-28L379 0L314 28V19H50c5-12-5-26 0-38Z M393-19H910V-28L975 0L910 28V19H393Z M984-19H1296V-28L1361 0L1296 28V19H984Z M1367-19H1664V-28L1729 0L1664 28V19H1367Z M1740-19H2129V-28L2194 0L2129 28V19H1740Z M2202-19H2505V-28L2570 0L2505 28V19H2202Z M2575-19H2609V-28L2673 0L2609 28V19H2575Z M2679-19H3148V-28L3213 0L3148 28V19H2679Z M3233-19H3263V-28L3319 0L3263 28V19H3233Z"/>
<text x="182" y="9">TU48</text><text x="686" y="9">TU49</text><text x="1174" y="9">TU50</text><text x="1548" y="9">TU51</text><text x="1966" y="9">TU52</text><text x="2386" y="9">TU53</text><text x="2609" y="9">TU54</text><text x="2946" y="9">TU55</text><text x="3254" y="9">56</text>
</g>
<g id="row3-labels" class="lab">
<text transform="translate(63 1340)rotate(-45)">putative peptidoglycan hydrolase tmpE</text>
<text transform="translate(209 1340)rotate(-45)">tail central spike</text>
<text transform="translate(393 1340)rotate(-45)">putative baseplate component</text>
<text transform="translate(464 1340)rotate(-45)">tail tube initiator</text>
<text transform="translate(523 1340)rotate(-45)">baseplate morphogenetic protein A bmpA</text>
<text transform="translate(599 1340)rotate(-45)">baseplate morphogenetic protein A bmpB</text>
<text transform="translate(778 1340)rotate(-45)">tmpF 00120</text>
<text transform="translate(982 1340)rotate(-45)">baseplate protein bmpC</text>
<text transform="translate(1152 1340)rotate(-45)">tripod protein tmpG</text>
<text transform="translate(1342 1340)rotate(-45)">00123</text>
<text transform="translate(1445 1340)rotate(-45)">putative receptor binding protein 1 rbp1</text>
<text transform="translate(1564 1340)rotate(-45)">putative baseplate component</text>
<text transform="translate(1640 1340)rotate(-45)">putative receptor binding protein 1 rbp2</text>
<text transform="translate(1798 1340)rotate(-45)">DNA helicase A dhlA</text>
<text transform="translate(1953 1340)rotate(-45)">00128</text>
<text transform="translate(2108 1340)rotate(-45)">DNA helicase B dhlB</text>
<text transform="translate(2226 1340)rotate(-45)">recombination nuclease A rncA</text>
<text transform="translate(2291 1340)rotate(-45)">00131</text>
<text transform="translate(2400 1340)rotate(-45)">recombination nuclease B rncB</text>
<text transform="translate(2527 1340)rotate(-45)">anti−σ factor asf</text>
<text transform="translate(2601 1340)rotate(-45)">DNA primase/helicase pri</text>
<text transform="translate(2673 1340)rotate(-45)">00135</text>
<text transform="translate(2710 1340)rotate(-45)">00136</text>
<text transform="translate(2748 1340)rotate(-45)">resolvase</text>
<text transform="translate(2823 1340)rotate(-45)">ribonucleotide reduction protein nrdI</text>
<text transform="translate(2905 1336)rotate(-45)">ribonucleoside−diphosphate<tspan x="19" dy="22">reductase large subunit nrdE</tspan></text>
<text transform="translate(3060 1336)rotate(-45)">ribonucleoside−diphosphate<tspan x="19" dy="22">reductase small subunit nrdF</tspan></text>
<text transform="translate(3149 1340)rotate(-45)">00141</text>
<text transform="translate(3192 1340)rotate(-45)">putative thioredoxin tio</text>
<text transform="translate(3241 1340)rotate(-45)">00143</text>
<text transform="translate(3305 1340)rotate(-45)">integration host factor trf</text>
</g>
</g>

<g id="row4">
<g id="row4-genes" class="gn" transform="translate(0 1878)">
<path class="na" d="M41-16H70V-23L123 0L70 23V16H41Z M137-16H154V-23L187 0L154 23V16H137Z M200-16H263V-23L328 0L263 23V16H200Z M353-16H376V-23L420 0L376 23V16H353Z M443-16H471V-23L523 0L471 23V16H443Z M531-16H539V-23L554 0L539 23V16H531Z M554-16H570V-23L600 0L570 23V16H554Z M610-16H665V-23L730 0L665 23V16H610Z M735-16H744V-23L761 0L744 23V16H735Z M791-16H822V-23L881 0L822 23V16H791Z M896-16H927V-23L984 0L927 23V16H896Z M986-16H997V-23L1017 0L997 23V16H986Z M1018-16H1040V-23L1081 0L1040 23V16H1018Z"/>
<path class="pk" d="M1101-16H1119V-23L1152 0L1119 23V16H1101Z M1156-16H1172V-23L1202 0L1172 23V16H1156Z M1205-16H1213V-23L1228 0L1213 23V16H1205Z"/>
<path class="or" d="M1246-16H1252V-23L1262 0L1252 23V16H1246Z M1262-16H1287V-23L1333 0L1287 23V16H1262Z M1333-16H1386V-23L1451 0L1386 23V16H1333Z M1453-16H1465V-23L1486 0L1465 23V16H1453Z M1486-16H1497V-23L1517 0L1497 23V16H1486Z M1524-16H1540V-23L1571 0L1540 23V16H1524Z M1572-16H1596V-23L1642 0L1596 23V16H1572Z M1643-16H1657V-23L1684 0L1657 23V16H1643Z M1686-16H1715V-23L1768 0L1715 23V16H1686Z M1802-16H1826V-23L1870 0L1826 23V16H1802Z M1872-16H1888V-23L1917 0L1888 23V16H1872Z M1923-16H1938V-23L1965 0L1938 23V16H1923Z M1966-16H1990V-23L2035 0L1990 23V16H1966Z M2041-16H2051V-23L2070 0L2051 23V16H2041Z M2070-16H2079V-23L2095 0L2079 23V16H2070Z M2095-16H2101V-23L2112 0L2101 23V16H2095Z M2112-16H2118V-23L2130 0L2118 23V16H2112Z M2130-16H2136V-23L2147 0L2136 23V16H2130Z M2147-16H2153V-23L2165 0L2153 23V16H2147Z M2165-16H2182V-23L2215 0L2182 23V16H2165Z M2218-16H2225V-23L2239 0L2225 23V16H2218Z M2239-16H2246V-23L2258 0L2246 23V16H2239Z M2258-16H2268V-23L2288 0L2268 23V16H2258Z M2288-16H2295V-23L2308 0L2295 23V16H2288Z M2308-16H2321V-23L2344 0L2321 23V16H2308Z M2344-16H2357V-23L2380 0L2357 23V16H2344Z M2380-16H2390V-23L2408 0L2390 23V16H2380Z M2408-16H2419V-23L2439 0L2419 23V16H2408Z M2439-16H2452V-23L2475 0L2452 23V16H2439Z M2475-16H2494V-23L2530 0L2494 23V16H2475Z M2530-16H2535V-23L2543 0L2535 23V16H2530Z M2543-16H2547V-23L2555 0L2547 23V16H2543Z M2555-16H2561V-23L2571 0L2561 23V16H2555Z M2571-16H2584V-23L2609 0L2584 23V16H2571Z M2609-16H2614V-23L2623 0L2614 23V16H2609Z M2623-16H2629V-23L2639 0L2629 23V16H2623Z M2639-16H2647V-23L2663 0L2647 23V16H2639Z M2663-16H2670V-23L2683 0L2670 23V16H2663Z M2683-16H2690V-23L2703 0L2690 23V16H2683Z M2703-16H2711V-23L2726 0L2711 23V16H2703Z M2726-16H2736V-23L2754 0L2736 23V16H2726Z M2754-16H2764V-23L2782 0L2764 23V16H2754Z M2782-16H2806V-23L2850 0L2806 23V16H2782Z M2854-16H2862V-23L2876 0L2862 23V16H2854Z M2876-16H2882V-23L2894 0L2882 23V16H2876Z M2894-16H2904V-23L2922 0L2904 23V16H2894Z M2930-16H2941V-23L2962 0L2941 23V16H2930Z M2962-16H2992V-23L3047 0L2992 23V16H2962Z M3047-16H3120V-23L3185 0L3120 23V16H3047Z M3189-16H3199V-23L3219 0L3199 23V16H3189Z M3219-16H3232V-23L3257 0L3232 23V16H3219Z M3257-16H3266V-23L3283 0L3266 23V16H3257Z M3283-16H3295V-23L3316 0L3295 23V16H3283Z M3316-16H3332V-23L3363 0L3332 23V16H3316Z M3363-16H3373V-23L3392 0L3373 23V16H3363Z M3392-16H3402V-23L3420 0L3402 23V16H3392Z M3420-16H3429V-23L3446 0L3429 23V16H3420Z M3446-16H3452V-23L3464 0L3452 23V16H3446Z M3464-16H3471V-23L3484 0L3471 23V16H3464Z"/>
<use href="#t" x="57"/><use href="#t" x="749"/><use href="#t" x="1100"/><use href="#t" x="1244"/><use href="#t" x="1530"/><use href="#t" x="2046"/><use href="#t" x="2095"/><use href="#t" x="2710"/><use href="#t" x="2856"/><use href="#t" x="3193"/>
<use href="#pR" x="61"/><use href="#pR" x="546"/><use href="#pR" x="627"/><use href="#pR" x="1249"/><use href="#pR" x="1323"/><use href="#pR" x="1535"/><use href="#pR" x="1933"/><use href="#pR" x="2098"/><use href="#pR" x="2158"/><use href="#pR" x="2300"/><use href="#pR" x="2420"/><use href="#pR" x="2717"/><use href="#pR" x="2862"/><use href="#pR" x="3201"/><use href="#pR" x="3288"/>
<use href="#lR" x="791"/><use href="#lR" x="1105"/>
<use href="#a" x="62" y="-27"/><use href="#a" x="757" y="-27"/><use href="#a" x="1094" y="-27"/><use href="#a" x="1251" y="-27"/><use href="#a" x="1524" y="-27"/><use href="#a" x="2051" y="-27"/><use href="#a" x="2090" y="-27"/><use href="#a" x="2704" y="-27"/><use href="#a" x="2863" y="-27"/><use href="#a" x="3201" y="-27"/>
<use href="#a" x="74" y="30"/><use href="#a" x="562" y="30"/><use href="#a" x="641" y="30"/><use href="#a" x="1116" y="30"/><use href="#a" x="1265" y="30"/><use href="#a" x="1549" y="30"/><use href="#a" x="1947" y="30"/><use href="#a" x="2112" y="30"/><use href="#a" x="2726" y="30"/><use href="#a" x="2874" y="30"/><use href="#a" x="3209" y="30"/>
</g>
<g id="row4-tus" class="tu" transform="translate(0 1947)">
<path class="lt" d="M57-19H1035V-28L1100 0L1035 28V19H57Z"/>
<path class="ml" d="M1100-19H1179V-28L1244 0L1179 28V19H1100Z"/>
<path class="em" d="M1246-19H1465V-28L1530 0L1465 28V19H1246Z M1530-19H2030V-28L2095 0L2030 28V19H1530Z M2097-19H2645V-28L2710 0L2645 28V19H2097Z M2710-19H2789V-28L2854 0L2789 28V19H2710Z M2856-19H3125V-28L3190 0L3125 28V19H2856Z M3191-19H3411V-28L3476 0L3411 28V19H3191Z"/>
<text x="581" y="9">TU28</text><text x="1143" y="9">TU29</text><text x="1356" y="9">TU30</text><text x="1772" y="9">TU31</text><text x="2406" y="9">TU32</text><text x="2757" y="9">TU33</text><text x="2997" y="9">TU34</text><text x="3310" y="9">TU35</text>
</g>
<g id="row4-phageK" class="tu" transform="translate(0 2010)">
<path class="pkt" d="M550-19H574V-28L619 0L574 28V19H550Z M628-19H682V-28L747 0L682 28V19H628Z M753-19H1032V-28L1097 0L1032 28V19H753Z M1109-19H1177V-28L1242 0L1177 28V19H1109Z M1253-19H1463V-28L1528 0L1463 28V19H1253Z M1535-19H1714V-28L1779 0L1714 28V19H1535Z M1814-19H1861V-28L1926 0L1861 28V19H1814Z M1933-19H1977V-28L2042 0L1977 28V19H1933Z M2049-19H2063V-28L2088 0L2063 28V19H2049Z M2102-19H2644V-28L2709 0L2644 28V19H2102Z M2717-19H2787V-28L2852 0L2787 28V19H2717Z M2862-19H3124V-28L3189 0L3124 28V19H2862Z M3197-19H3227V-28L3284 0L3227 28V19H3197Z M3286-19H3470c-5 12 5 26 0 38H3286Z"/>
<text x="567" y="9">58</text><text x="669" y="9">TU59</text><text x="887" y="9">TU60</text><text x="1146" y="9">TU61</text><text x="1358" y="9">TU62</text><text x="1620" y="9">TU63</text><text x="1851" y="9">TU64</text><text x="1972" y="9">TU65</text><text x="2406" y="9">TU67</text><text x="2762" y="9">TU68</text><text x="2997" y="9">TU69</text><text x="3230" y="9">TU70</text><text x="3372" y="9">TU71</text>
</g>
<g id="row4-labels" class="lab">
<text transform="translate(49 1846)rotate(-45)">DNA polymerase I polA.1</text>
<text transform="translate(143 1846)rotate(-45)">putative endonuclease I−KsaII</text>
<text transform="translate(250 1846)rotate(-45)">DNA polymerase I polA.2</text>
<text transform="translate(365 1846)rotate(-45)">HNH homing endonuclease I−KsaIII</text>
<text transform="translate(457 1846)rotate(-45)">DNA polymerase I polA.3</text>
<text transform="translate(523 1846)rotate(-45)">00150</text>
<text transform="translate(562 1846)rotate(-45)">00151</text>
<text transform="translate(651 1846)rotate(-45)">00152</text>
<text transform="translate(735 1846)rotate(-45)">recombinase rec.1</text>
<text transform="translate(809 1846)rotate(-45)" style="white-space:pre">putative endonuclease  I−MsaII</text>
<text transform="translate(916 1846)rotate(-45)">recombinase rec.2</text>
<text transform="translate(983 1846)rotate(-45)">00156</text>
<text transform="translate(1038 1846)rotate(-45)">putative RNA polymerase sigma factor sig</text>
<text transform="translate(1105 1846)rotate(-45)">00158</text>
<text transform="translate(1153 1846)rotate(-45)">head decoration protein tmpH_1</text>
<text transform="translate(1199 1846)rotate(-45)">head decoration protein tmpH_2</text>
<text transform="translate(1228 1846)rotate(-45)">00161</text>
<text transform="translate(1277 1846)rotate(-45)">00162</text>
<text transform="translate(1372 1846)rotate(-45)">00163</text>
<text transform="translate(1449 1846)rotate(-45)">putative membrane protein mbpG</text>
<text transform="translate(1484 1846)rotate(-45)">00165</text>
<text transform="translate(1528 1846)rotate(-45)">00166</text>
<text transform="translate(1589 1846)rotate(-45)">00167</text>
<text transform="translate(1649 1846)rotate(-45)">00168</text>
<text transform="translate(1709 1846)rotate(-45)">00169</text>
<text transform="translate(1818 1846)rotate(-45)">00170</text>
<text transform="translate(1875 1846)rotate(-45)">00171</text>
<text transform="translate(1924 1846)rotate(-45)">00172</text>
<text transform="translate(1980 1846)rotate(-45)">00173</text>
<text transform="translate(2025 1846)rotate(-45)">putative membrane protein mbpH</text>
<text transform="translate(2048 1846)rotate(-45)">00174A</text>
<text transform="translate(2076 1846)rotate(-45)">00175</text>
<text transform="translate(2097 1846)rotate(-45)">00176</text>
<text transform="translate(2119 1846)rotate(-45)">00176A</text>
<text transform="translate(2144 1846)rotate(-45)">DNA sliding clump inhibitor sci</text>
<text transform="translate(2175 1846)rotate(-45)">putative membrane protein mbpJ</text>
<text transform="translate(2211 1846)rotate(-45)">00179</text>
<text transform="translate(2232 1846)rotate(-45)">00180</text>
<text transform="translate(2256 1846)rotate(-45)">00181</text>
<text transform="translate(2280 1846)rotate(-45)">putative membrane protein mbpK</text>
<text transform="translate(2312 1846)rotate(-45)">00183</text>
<text transform="translate(2348 1846)rotate(-45)">00184</text>
<text transform="translate(2374 1846)rotate(-45)">putative membrane protein mbpI</text>
<text transform="translate(2408 1846)rotate(-45)">00186</text>
<text transform="translate(2439 1846)rotate(-45)">00187</text>
<text transform="translate(2489 1846)rotate(-45)">00188</text>
<text transform="translate(2511 1846)rotate(-45)">00189</text>
<text transform="translate(2531 1846)rotate(-45)">00189A</text>
<text transform="translate(2551 1846)rotate(-45)">00189B</text>
<text transform="translate(2569 1846)rotate(-45)">putative membrane protein mbpM</text>
<text transform="translate(2599 1846)rotate(-45)">00190A</text>
<text transform="translate(2619 1846)rotate(-45)">00191</text>
<text transform="translate(2643 1846)rotate(-45)">putative membrane protein mbpL</text>
<text transform="translate(2663 1846)rotate(-45)">00193</text>
<text transform="translate(2683 1846)rotate(-45)">00194</text>
<text transform="translate(2703 1846)rotate(-45)">putative membrane protein mbpZ</text>
<text transform="translate(2726 1846)rotate(-45)">00196</text>
<text transform="translate(2757 1846)rotate(-45)">00197</text>
<text transform="translate(2798 1846)rotate(-45)">00198</text>
<text transform="translate(2846 1846)rotate(-45)">putative membrane protein mbpN</text>
<text transform="translate(2874 1846)rotate(-45)">00200</text>
<text transform="translate(2898 1846)rotate(-45)">putative membrane protein mbpO</text>
<text transform="translate(2924 1846)rotate(-45)">00202</text>
<text transform="translate(2986 1846)rotate(-45)">ribose−phosphate pyrophosphokinase rpp</text>
<text transform="translate(3093 1846)rotate(-45)">nicotinamide phosphoribosyltransferase nadV</text>
<text transform="translate(3189 1846)rotate(-45)">00205</text>
<text transform="translate(3219 1846)rotate(-45)">00206</text>
<text transform="translate(3249 1846)rotate(-45)">00207</text>
<text transform="translate(3281 1846)rotate(-45)">00208</text>
<text transform="translate(3320 1846)rotate(-45)">00209</text>
<text transform="translate(3360 1846)rotate(-45)">00210</text>
<text transform="translate(3384 1846)rotate(-45)">00211</text>
<text transform="translate(3410 1846)rotate(-45)">00212</text>
<text transform="translate(3432 1846)rotate(-45)">00213</text>
<text transform="translate(3464 1846)rotate(-45)">bofR 00214</text>
</g>
</g>

<g id="legend">
<text class="lgh" x="43" y="2152">Genes</text>
<use href="#ic" class="hb ic" x="43" y="2212"/><text class="lg" x="104" y="2226" style="white-space:pre">host  takeover</text>
<use href="#ic" class="or ic" x="43" y="2268"/><text class="lg" x="104" y="2282">ORF</text>
<use href="#ic" class="cl ic" x="43" y="2323"/><text class="lg" x="104" y="2337">cell lysis</text>
<use href="#ic" class="pk ic" x="43" y="2378"/><text class="lg" x="104" y="2392">packaging and morphogenesis</text>
<use href="#ic" class="na ic" x="43" y="2436"/><text class="lg" x="104" y="2450">nucleic acid metabolism</text>
<text class="lgh" x="787" y="2152">TUs</text>
<use href="#ic" class="em ic" x="787" y="2210"/><text class="lg" x="850" y="2224">early/middle</text>
<use href="#ic" class="ml ic" x="787" y="2266"/><text class="lg" x="850" y="2280">early/middle and late</text>
<use href="#ic" class="lt ic" x="787" y="2323"/><text class="lg" x="850" y="2337">late</text>
<use href="#ic" class="pkt ic" x="787" y="2379"/><text class="lg" x="850" y="2393">phage K TUs</text>
<use href="#pR" transform="translate(1318 2190) scale(1.6)"/><text class="lg" x="1369" y="2220">σ70 promoter</text>
<use href="#lL" transform="translate(1340 2246) scale(1.6)"/><text class="lg" x="1369" y="2277">late promoter</text>
<use href="#t" transform="translate(1330 2336) scale(1.6)"/><text class="lg" x="1369" y="2327">terminator</text>
<path d="M1330 2350V2374M1319.6 2356L1340.4 2368M1319.6 2368L1340.4 2356" stroke="#8b1c5c" stroke-width="3.5"/><text class="lg" x="1369" y="2375">the feature is present in phage K</text>
</g>
</svg>
